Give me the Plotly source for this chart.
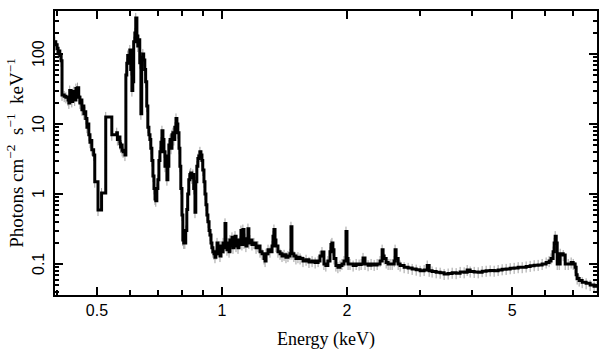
import math
import plotly.graph_objects as go

# Energy bins (keV)
energy = [
    0.396, 0.398, 0.401, 0.403, 0.405, 0.407, 0.410, 0.412, 0.417, 0.421,
    0.426, 0.428, 0.430, 0.433, 0.435, 0.437, 0.440, 0.442, 0.445, 0.447,
    0.449, 0.452, 0.455, 0.457, 0.460, 0.462, 0.465, 0.468, 0.470, 0.473,
    0.475, 0.478, 0.481, 0.483, 0.486, 0.491, 0.494, 0.503, 0.513, 0.525,
    0.543, 0.558, 0.560, 0.563, 0.568, 0.570, 0.573, 0.575, 0.578, 0.584,
    0.587, 0.590, 0.593, 0.597, 0.600, 0.603, 0.607, 0.610, 0.613, 0.617,
    0.620, 0.624, 0.627, 0.631, 0.634, 0.638, 0.641, 0.645, 0.648, 0.652,
    0.655, 0.659, 0.663, 0.667, 0.671, 0.674, 0.678, 0.682, 0.686, 0.690,
    0.693, 0.697, 0.701, 0.705, 0.709, 0.713, 0.717, 0.721, 0.725, 0.729,
    0.733, 0.737, 0.741, 0.745, 0.750, 0.754, 0.758, 0.762, 0.766, 0.770,
    0.775, 0.779, 0.783, 0.788, 0.792, 0.796, 0.801, 0.805, 0.809, 0.814,
    0.818, 0.823, 0.827, 0.832, 0.837, 0.841, 0.846, 0.851, 0.855, 0.861,
    0.865, 0.870, 0.875, 0.880, 0.885, 0.890, 0.895, 0.899, 0.905, 0.910,
    0.915, 0.920, 0.925, 0.931, 0.936, 0.941, 0.946, 0.951, 0.957, 0.962,
    0.967, 0.973, 0.978, 0.984, 0.989, 0.994, 1.000, 1.006, 1.011, 1.017,
    1.022, 1.028, 1.034, 1.040, 1.045, 1.051, 1.057, 1.063, 1.069, 1.075,
    1.081, 1.087, 1.093, 1.099, 1.105, 1.111, 1.117, 1.123, 1.130, 1.136,
    1.142, 1.149, 1.155, 1.161, 1.168, 1.181, 1.194, 1.208, 1.221, 1.235,
    1.249, 1.263, 1.270, 1.277, 1.291, 1.305, 1.320, 1.327, 1.334, 1.342,
    1.349, 1.364, 1.380, 1.395, 1.411, 1.426, 1.442, 1.458, 1.466, 1.474,
    1.490, 1.507, 1.524, 1.542, 1.567, 1.594, 1.620, 1.648, 1.676, 1.704,
    1.722, 1.741, 1.760, 1.779, 1.799, 1.820, 1.830, 1.840, 1.850, 1.861,
    1.881, 1.902, 1.924, 1.945, 1.967, 1.989, 2.000, 2.012, 2.034, 2.069,
    2.104, 2.139, 2.163, 2.186, 2.210, 2.248, 2.286, 2.325, 2.364, 2.402,
    2.430, 2.443, 2.457, 2.485, 2.512, 2.540, 2.569, 2.598, 2.611, 2.626,
    2.656, 2.685, 2.745, 2.807, 2.870, 2.935, 3.000, 3.067, 3.120, 3.154,
    3.206, 3.279, 3.352, 3.427, 3.504, 3.583, 3.663, 3.745, 3.829, 3.894,
    3.959, 4.048, 4.139, 4.231, 4.326, 4.423, 4.522, 4.623, 4.727, 4.833,
    4.942, 5.052, 5.166, 5.282, 5.400, 5.522, 5.645, 5.771, 5.900, 6.033,
    6.133, 6.200, 6.270, 6.307, 6.343, 6.380, 6.415, 6.486, 6.521, 6.632,
    6.705, 6.818, 6.930, 7.010, 7.086, 7.125, 7.165, 7.245, 7.367, 7.530,
    7.700, 7.870, 8.000,
]

# Flux density (photons cm^-2 s^-1 keV^-1)
flux = [
    150, 135, 120, 105, 110, 95, 80, 26, 25, 24,
    22, 20, 30, 26, 21, 27, 29, 22, 32, 28,
    33, 24, 20, 22, 16, 18, 14, 15, 12, 9,
    10, 7, 5.5, 5.8, 4.3, 3.6, 1.5, 0.59, 1.03, 12.6,
    7, 7.5, 6, 6.5, 5.2, 4.7, 5, 4.2, 4.0, 3.6,
    50, 74, 95, 85, 114, 60, 30, 40, 150, 200,
    327, 180, 130, 160, 75, 14, 90, 100, 82, 60,
    40, 18, 9, 7, 6, 4.5, 3, 1.8, 1.2, 0.85,
    0.8, 1.2, 1.6, 3, 4, 5.5, 8, 6, 4, 2.5,
    3.5, 1.6, 2.5, 5, 6, 4.5, 7, 7.5, 6, 9,
    12, 10, 7.5, 4.5, 2.5, 1.2, 0.5, 0.22, 0.2, 0.2,
    0.3, 0.6, 1.0, 1.6, 1.9, 2.0, 1.7, 1.9, 1.2, 0.55,
    1.5, 2.5, 3.2, 3.5, 4.0, 3.6, 3.0, 2.2, 1.5, 1.0,
    0.7, 0.5, 0.4, 0.3, 0.26, 0.2, 0.17, 0.15, 0.14, 0.125,
    0.14, 0.2, 0.16, 0.18, 0.13, 0.18, 0.15, 0.2, 0.17, 0.38,
    0.2, 0.16, 0.2, 0.15, 0.22, 0.18, 0.24, 0.17, 0.2, 0.25,
    0.18, 0.22, 0.17, 0.2, 0.21, 0.3, 0.19, 0.31, 0.2, 0.23,
    0.18, 0.21, 0.32, 0.2, 0.22, 0.19, 0.2, 0.17, 0.18, 0.15,
    0.14, 0.12, 0.11, 0.14, 0.16, 0.15, 0.18, 0.25, 0.31, 0.22,
    0.18, 0.15, 0.14, 0.13, 0.135, 0.125, 0.13, 0.14, 0.34, 0.14,
    0.13, 0.12, 0.125, 0.12, 0.11, 0.115, 0.107, 0.11, 0.105, 0.11,
    0.13, 0.148, 0.1, 0.095, 0.11, 0.15, 0.19, 0.2, 0.16, 0.12,
    0.095, 0.09, 0.095, 0.1, 0.11, 0.29, 0.12, 0.1, 0.1, 0.095,
    0.1, 0.098, 0.1, 0.122, 0.1, 0.096, 0.1, 0.097, 0.1, 0.11,
    0.16, 0.13, 0.12, 0.105, 0.1, 0.1, 0.1, 0.11, 0.16, 0.12,
    0.1, 0.095, 0.09, 0.088, 0.085, 0.083, 0.08, 0.082, 0.095, 0.08,
    0.078, 0.076, 0.075, 0.072, 0.073, 0.075, 0.074, 0.077, 0.076, 0.082,
    0.078, 0.077, 0.076, 0.079, 0.08, 0.081, 0.08, 0.082, 0.084, 0.085,
    0.087, 0.088, 0.09, 0.09, 0.092, 0.094, 0.096, 0.097, 0.1, 0.105,
    0.11, 0.12, 0.15, 0.2, 0.25, 0.2, 0.1, 0.1, 0.14, 0.134,
    0.1, 0.1, 0.105, 0.1, 0.09, 0.07, 0.062, 0.058, 0.055, 0.053,
    0.05, 0.048, 0.048,
]

x_tick_vals = [0.5, 1, 2, 5]
x_tick_text = ["0.5", "1", "2", "5"]
x_minor_vals = [0.4, 0.6, 0.7, 0.8, 0.9, 3, 4, 6, 7, 8]
y_tick_vals = [0.1, 1, 10, 100]
y_tick_text = ["0.1", "1", "10", "100"]
y_minor_vals = [0.04, 0.05, 0.06, 0.07, 0.08, 0.09,
                0.2, 0.3, 0.4, 0.5, 0.6, 0.7, 0.8, 0.9,
                2, 3, 4, 5, 6, 7, 8, 9,
                20, 30, 40, 50, 60, 70, 80, 90,
                200, 300, 400]

fig = go.Figure()
# grey error bars underneath
fig.add_trace(go.Scatter(
    x=energy, y=flux, mode="markers",
    marker=dict(size=1, color="rgba(0,0,0,0)"),
    error_y=dict(type="percent", value=18, color="#a0a0a0", thickness=1, width=0),
    hoverinfo="skip", showlegend=False,
))
fig.add_trace(go.Scatter(
    x=energy, y=flux, mode="lines",
    line=dict(color="black", width=3, shape="hv"),
    showlegend=False,
))

tick_font = dict(family="Liberation Sans, Arial, sans-serif", size=16, color="black")
title_font = dict(family="Liberation Serif, Times New Roman, serif", size=18, color="black")

fig.update_xaxes(
    type="log", range=[-0.402, 0.903], automargin=False,
    tickmode="array", tickvals=x_tick_vals, ticktext=x_tick_text,
    ticks="inside", ticklen=8, tickwidth=1.5, tickcolor="black",
    minor=dict(tickmode="array", tickvals=x_minor_vals, ticks="inside",
               ticklen=5, tickwidth=1.5, tickcolor="black", showgrid=False),
    showline=True, linewidth=2, linecolor="black", mirror="allticks",
    showgrid=False, zeroline=False,
    tickfont=tick_font,
    title=dict(text="Energy (keV)", font=title_font, standoff=14),
)
fig.update_yaxes(
    type="log", range=[-1.443, 2.614], automargin=False,
    tickmode="array", tickvals=y_tick_vals, ticktext=y_tick_text,
    showticklabels=False,
    ticks="inside", ticklen=8, tickwidth=1.5, tickcolor="black",
    minor=dict(tickmode="array", tickvals=y_minor_vals, ticks="inside",
               ticklen=4, tickwidth=1.5, tickcolor="black", showgrid=False),
    showline=True, linewidth=2, linecolor="black", mirror="allticks",
    showgrid=False, zeroline=False,
    title=dict(text="Photons cm<sup>\u22122</sup>  s<sup>\u22121</sup>  keV<sup>\u22121</sup>",
               font=dict(family="Liberation Serif, Times New Roman, serif", size=19, color="black"),
               standoff=24),
)
# rotated y tick labels (annotations on a log axis take log10 positions)
for v, t in zip(y_tick_vals, y_tick_text):
    fig.add_annotation(x=0, xref="paper", y=math.log10(v), yref="y", text=t, showarrow=False,
                       textangle=-90, xanchor="center", yanchor="middle", xshift=-16,
                       font=tick_font)

fig.update_layout(
    width=609, height=357,
    margin=dict(l=55, r=12, t=11, b=62),
    paper_bgcolor="white", plot_bgcolor="white",
)
fig.write_html("out.html", config={"displayModeBar": False},
               post_script="document.body.style.margin='0';")
